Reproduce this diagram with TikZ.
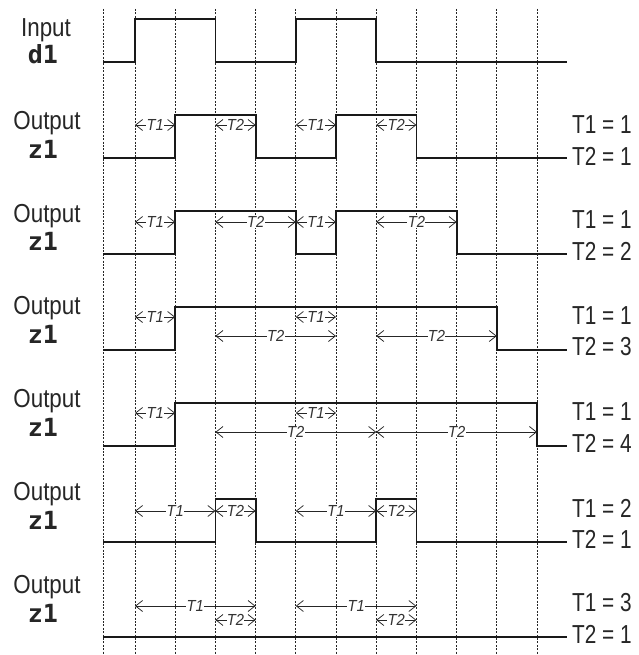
\documentclass[tikz,border=0pt]{standalone}
\usepackage{fontspec}
\setmainfont{Liberation Sans}
\setmonofont{DejaVu Sans Mono}
\usetikzlibrary{arrows.meta}
\begin{document}
\begin{tikzpicture}[x=1pt,y=-1pt,
  gridl/.style={draw=black!85, line width=0.65pt, dash pattern=on 2pt off 1.4pt},
  sig/.style={line width=1.8pt, black!90, line join=miter},
  dim/.style={line width=0.75pt, black!85, {Straight Barb[length=7pt,width=11pt]}-{Straight Barb[length=7pt,width=11pt]}},
  tl/.style={font=\fontsize{16}{16}\selectfont\itshape, fill=white, inner sep=0.4pt, text=black!80, xscale=0.92},
  lab/.style={font=\fontsize{26}{26}\selectfont, xscale=0.86, inner sep=0, text=black!85},
  mono/.style={font=\fontsize{25}{25}\selectfont\ttfamily\bfseries, inner sep=0, text=black!85},
  rl/.style={font=\fontsize{26}{26}\selectfont, xscale=0.8, inner sep=0, anchor=west, text=black!85}
]
\useasboundingbox (0,0) rectangle (638,655);
\fill[white] (0,0) rectangle (638,655);
% grid lines
\foreach \x in {103,135,175.2,215.4,255.6,295.8,336,376.2,416.4,456.6,496.8,537}
  \draw[gridl] (\x,9) -- (\x,655);
% left labels
\node[lab] (in) at (46,30) {Input};
\node[mono] (d1) at (43,54) {d1};
\foreach \i in {0,...,5}{
  \node[lab] (out\i) at (47,123+92.8*\i) {Output};
  \node[mono] (z\i) at (43,149+92.8*\i) {z1};
}
% signals
% row 1 input
\draw[sig] (103,62) -- (135,62) -- (135,19) -- (215.4,19) -- (215.4,62) -- (295.8,62) -- (295.8,19) -- (376.2,19) -- (376.2,62) -- (567,62);
% row 2
\draw[sig] (103,158) -- (175.2,158) -- (175.2,115) -- (255.6,115) -- (255.6,158) -- (336,158) -- (336,115) -- (416.4,115) -- (416.4,158) -- (567,158);
% row 3
\draw[sig] (103,254) -- (175.2,254) -- (175.2,211) -- (295.8,211) -- (295.8,254) -- (336,254) -- (336,211) -- (456.6,211) -- (456.6,254) -- (567,254);
% row 4
\draw[sig] (103,350) -- (175.2,350) -- (175.2,307) -- (496.8,307) -- (496.8,350) -- (567,350);
% row 5
\draw[sig] (103,446) -- (175.2,446) -- (175.2,403) -- (537,403) -- (537,446) -- (567,446);
% row 6
\draw[sig] (103,542) -- (215.4,542) -- (215.4,499) -- (255.6,499) -- (255.6,542) -- (376.2,542) -- (376.2,499) -- (416.4,499) -- (416.4,542) -- (567,542);
% row 7
\draw[sig] (103,637) -- (567,637);
% dimension arrows
% row 2
\draw[dim] (135,125) -- node[tl]{T1} (175.2,125);
\draw[dim] (215.4,125) -- node[tl]{T2} (255.6,125);
\draw[dim] (295.8,125) -- node[tl]{T1} (336,125);
\draw[dim] (376.2,125) -- node[tl]{T2} (416.4,125);
% row 3
\draw[dim] (135,222) -- node[tl]{T1} (175.2,222);
\draw[dim] (215.4,222) -- node[tl]{T2} (295.8,222);
\draw[dim] (295.8,222) -- node[tl]{T1} (336,222);
\draw[dim] (376.2,222) -- node[tl]{T2} (456.6,222);
% row 4
\draw[dim] (135,317) -- node[tl]{T1} (175.2,317);
\draw[dim] (295.8,317) -- node[tl]{T1} (336,317);
\draw[dim] (215.4,336) -- node[tl]{T2} (336,336);
\draw[dim] (376.2,336) -- node[tl]{T2} (496.8,336);
% row 5
\draw[dim] (135,413) -- node[tl]{T1} (175.2,413);
\draw[dim] (295.8,413) -- node[tl]{T1} (336,413);
\draw[dim] (215.4,432) -- node[tl]{T2} (376.2,432);
\draw[dim] (376.2,432) -- node[tl]{T2} (537,432);
% row 6
\draw[dim] (135,511) -- node[tl]{T1} (215.4,511);
\draw[dim] (215.4,511) -- node[tl]{T2} (255.6,511);
\draw[dim] (295.8,511) -- node[tl]{T1} (376.2,511);
\draw[dim] (376.2,511) -- node[tl]{T2} (416.4,511);
% row 7
\draw[dim] (135,606) -- node[tl]{T1} (255.6,606);
\draw[dim] (215.4,620) -- node[tl]{T2} (255.6,620);
\draw[dim] (295.8,606) -- node[tl]{T1} (416.4,606);
\draw[dim] (376.2,620) -- node[tl]{T2} (416.4,620);
% right labels
\node[rl] (a2) at (572,125) {T1 = 1};
\node[rl] (b2) at (572,156) {T2 = 1};
\node[rl] (a3) at (572,220) {T1 = 1};
\node[rl] (b3) at (572,251) {T2 = 2};
\node[rl] (a4) at (572,316) {T1 = 1};
\node[rl] (b4) at (572,347) {T2 = 3};
\node[rl] (a5) at (572,412) {T1 = 1};
\node[rl] (b5) at (572,443) {T2 = 4};
\node[rl] (a6) at (572,508) {T1 = 2};
\node[rl] (b6) at (572,539) {T2 = 1};
\node[rl] (a7) at (572,603) {T1 = 3};
\node[rl] (b7) at (572,634) {T2 = 1};
\end{tikzpicture}
\end{document}
